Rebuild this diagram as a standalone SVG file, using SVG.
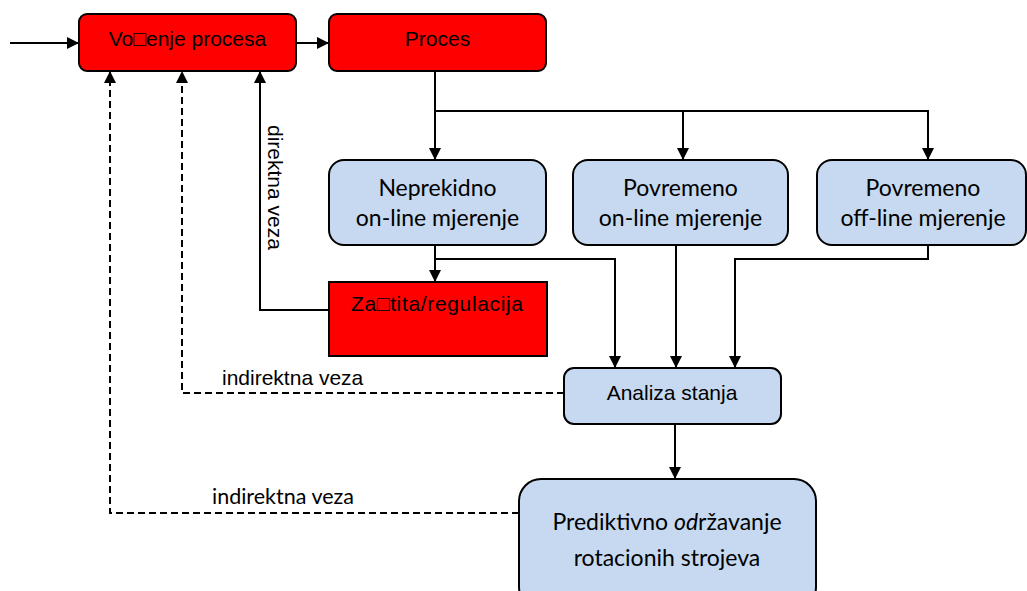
<svg xmlns="http://www.w3.org/2000/svg" width="1027" height="591" viewBox="0 0 1027 591">
<style>
.red{fill:#FF0000;stroke:#000;stroke-width:2}
.blue{fill:#C6D9F0;stroke:#000;stroke-width:2}
.ln{fill:none;stroke:#000;stroke-width:2}
.dash{fill:none;stroke:#000;stroke-width:2;stroke-dasharray:7 4}
.t1{font-family:"Liberation Sans",Arial,sans-serif;font-size:21px;fill:#000;text-anchor:middle}
.t2{font-family:Lato,"Open Sans",sans-serif;font-size:23px;fill:#000;text-anchor:middle}
.lab1{font-family:"Liberation Sans",Arial,sans-serif;font-size:21px;fill:#000}
.lab2{font-family:Lato,"Open Sans",sans-serif;font-size:21.5px;fill:#000}
</style>
<defs>
<marker id="ah" viewBox="0 0 12 12" refX="12" refY="6" markerWidth="12" markerHeight="12" markerUnits="userSpaceOnUse" orient="auto">
<path d="M0,0 L12,6 L0,12 z" fill="#000"/>
</marker>
</defs>
<rect width="1027" height="591" fill="#fff"/>
<g id="connectors">
<path class="ln" d="M10,43 H79" marker-end="url(#ah)"/>
<path class="ln" d="M296,43 H329" marker-end="url(#ah)"/>
<path class="ln" d="M435,71 V160" marker-end="url(#ah)"/>
<path class="ln" d="M435,111 H928 V160" marker-end="url(#ah)"/>
<path class="ln" d="M683,111 V160" marker-end="url(#ah)"/>
<path class="ln" d="M435,245 V282" marker-end="url(#ah)"/>
<path class="ln" d="M435,259 H615 V368" marker-end="url(#ah)"/>
<path class="ln" d="M676,245 V368" marker-end="url(#ah)"/>
<path class="ln" d="M928,245 V259 H735 V368" marker-end="url(#ah)"/>
<path class="ln" d="M329,310 H260 V71" marker-end="url(#ah)"/>
<path class="dash" d="M564,393 H182 V71" marker-end="url(#ah)"/>
<path class="dash" d="M519,513 H110 V71" marker-end="url(#ah)"/>
<path class="ln" d="M675,424 V479" marker-end="url(#ah)"/>
<text class="lab1" transform="translate(268,125) rotate(90)">direktna veza</text>
<text class="lab1" x="222" y="385">indirektna veza</text>
<text class="lab2" x="212" y="504">indirektna veza</text>
</g>
<g id="vodjenje">
<rect class="red" x="79" y="14" width="217" height="57" rx="8"/>
<text class="t1" x="187.5" y="46">Vo□enje procesa</text>
</g>
<g id="proces">
<rect class="red" x="329" y="14" width="217" height="57" rx="8"/>
<text class="t1" x="437.5" y="46">Proces</text>
</g>
<g id="neprekidno">
<rect class="blue" x="329" y="160" width="217" height="85" rx="15"/>
<text class="t2" x="437.5" y="196">Neprekidno</text>
<text class="t2" x="437.5" y="226">on-line mjerenje</text>
</g>
<g id="povremeno-online">
<rect class="blue" x="573" y="160" width="215" height="85" rx="15"/>
<text class="t2" x="680.5" y="196">Povremeno</text>
<text class="t2" x="680.5" y="226">on-line mjerenje</text>
</g>
<g id="povremeno-offline">
<rect class="blue" x="817" y="160" width="209" height="85" rx="15"/>
<text class="t2" x="923" y="196">Povremeno</text>
<text class="t2" x="923" y="226">off-line mjerenje</text>
</g>
<g id="zastita">
<rect class="red" x="329" y="282" width="218" height="74"/>
<text class="t1" x="437" y="311" textLength="172" lengthAdjust="spacing">Za□tita/regulacija</text>
</g>
<g id="analiza">
<rect class="blue" x="564" y="368" width="217" height="56" rx="10"/>
<text class="t1" x="672" y="400">Analiza stanja</text>
</g>
<g id="prediktivno">
<rect class="blue" x="519" y="479" width="297" height="130" rx="22"/>
<text class="t2" x="667" y="530">Prediktivno <tspan font-style="italic">od</tspan>ržavanje</text>
<text class="t2" x="667" y="566">rotacionih strojeva</text>
</g>
</svg>
